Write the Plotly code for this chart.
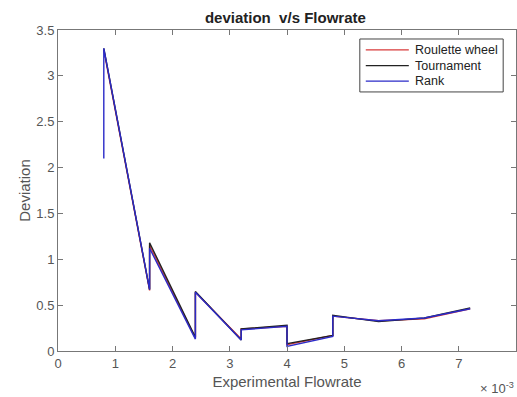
import plotly.graph_objects as go

flowrate = [0.0008, 0.0008, 0.0016, 0.0016, 0.0024, 0.0024, 0.0032, 0.0032,
            0.0040, 0.0040, 0.0048, 0.0048, 0.0056, 0.0064, 0.0072]
roulette = [3.28, 3.28, 0.66, 1.15, 0.14, 0.64, 0.13, 0.24, 0.27, 0.07, 0.17, 0.38, 0.33, 0.35, 0.46]
tournament = [3.30, 3.30, 0.67, 1.18, 0.15, 0.65, 0.12, 0.24, 0.28, 0.08, 0.17, 0.39, 0.32, 0.36, 0.47]
rank = [2.10, 3.30, 0.67, 1.12, 0.13, 0.64, 0.12, 0.23, 0.27, 0.05, 0.16, 0.38, 0.33, 0.36, 0.46]

series_names = ["Roulette wheel", "Tournament", "Rank"]
series_colors = ["#d83a3a", "#222222", "#2b2bc8"]

x_tickvals = [0, 0.001, 0.002, 0.003, 0.004, 0.005, 0.006, 0.007, 0.008]
x_ticktext = ["0", "1", "2", "3", "4", "5", "6", "7", "8"]
y_tickvals = [0, 0.5, 1, 1.5, 2, 2.5, 3, 3.5]
y_ticktext = ["0", "0.5", "1", "1.5", "2", "2.5", "3", "3.5"]

fig = go.Figure()
for name, ys, col in zip(series_names, [roulette, tournament, rank], series_colors):
    fig.add_trace(go.Scatter(x=flowrate, y=ys, mode="lines", name=name,
                             line=dict(color=col, width=1.4), showlegend=False))

axis_common = dict(showline=True, linecolor="#777777", linewidth=1, mirror="ticks",
                   ticks="inside", ticklen=5, tickcolor="#777777", showgrid=False,
                   zeroline=False, tickfont=dict(family="Liberation Sans", size=13, color="#555555"))

fig.update_layout(
    width=517, height=397,
    margin=dict(l=58, r=1, t=30, b=46),
    paper_bgcolor="white", plot_bgcolor="white",
    title=dict(text="<b>deviation  v/s Flowrate</b>", x=0.552, xanchor="center", y=0.955,
               yanchor="middle", font=dict(family="Liberation Sans", size=15, color="#222222")),
    xaxis=dict(range=[0, 0.008], tickvals=x_tickvals, ticktext=x_ticktext,
               title=dict(text="Experimental Flowrate", standoff=6,
                          font=dict(family="Liberation Sans", size=15, color="#555555")),
               **axis_common),
    yaxis=dict(range=[0, 3.5], tickvals=y_tickvals, ticktext=y_ticktext,
               title=dict(text="Deviation", standoff=2,
                          font=dict(family="Liberation Sans", size=15, color="#555555")),
               **axis_common),
    showlegend=False,
)

# manual MATLAB-style legend box
lx0, lx1, ly0, ly1 = 0.659, 0.972, 0.807, 0.972
fig.add_shape(type="rect", xref="paper", yref="paper", x0=lx0, x1=lx1, y0=ly0, y1=ly1,
              line=dict(color="#444444", width=1), fillcolor="white", layer="above")
entry_y = [0.938, 0.889, 0.841]
for name, col, yy in zip(series_names, series_colors, entry_y):
    fig.add_shape(type="line", xref="paper", yref="paper", x0=0.672, x1=0.766, y0=yy, y1=yy,
                  line=dict(color=col, width=1.2), layer="above")
    fig.add_annotation(text=name, xref="paper", yref="paper", x=0.776, y=yy,
                       xanchor="left", yanchor="middle", showarrow=False,
                       font=dict(family="Liberation Sans", size=12.5, color="#222222"))

fig.add_annotation(text="× 10<sup>-3</sup>", xref="paper", yref="paper", x=1.0, y=-0.115,
                   xanchor="right", yanchor="middle", showarrow=False,
                   font=dict(family="Liberation Sans", size=13, color="#555555"))

fig.write_html("out.html")
